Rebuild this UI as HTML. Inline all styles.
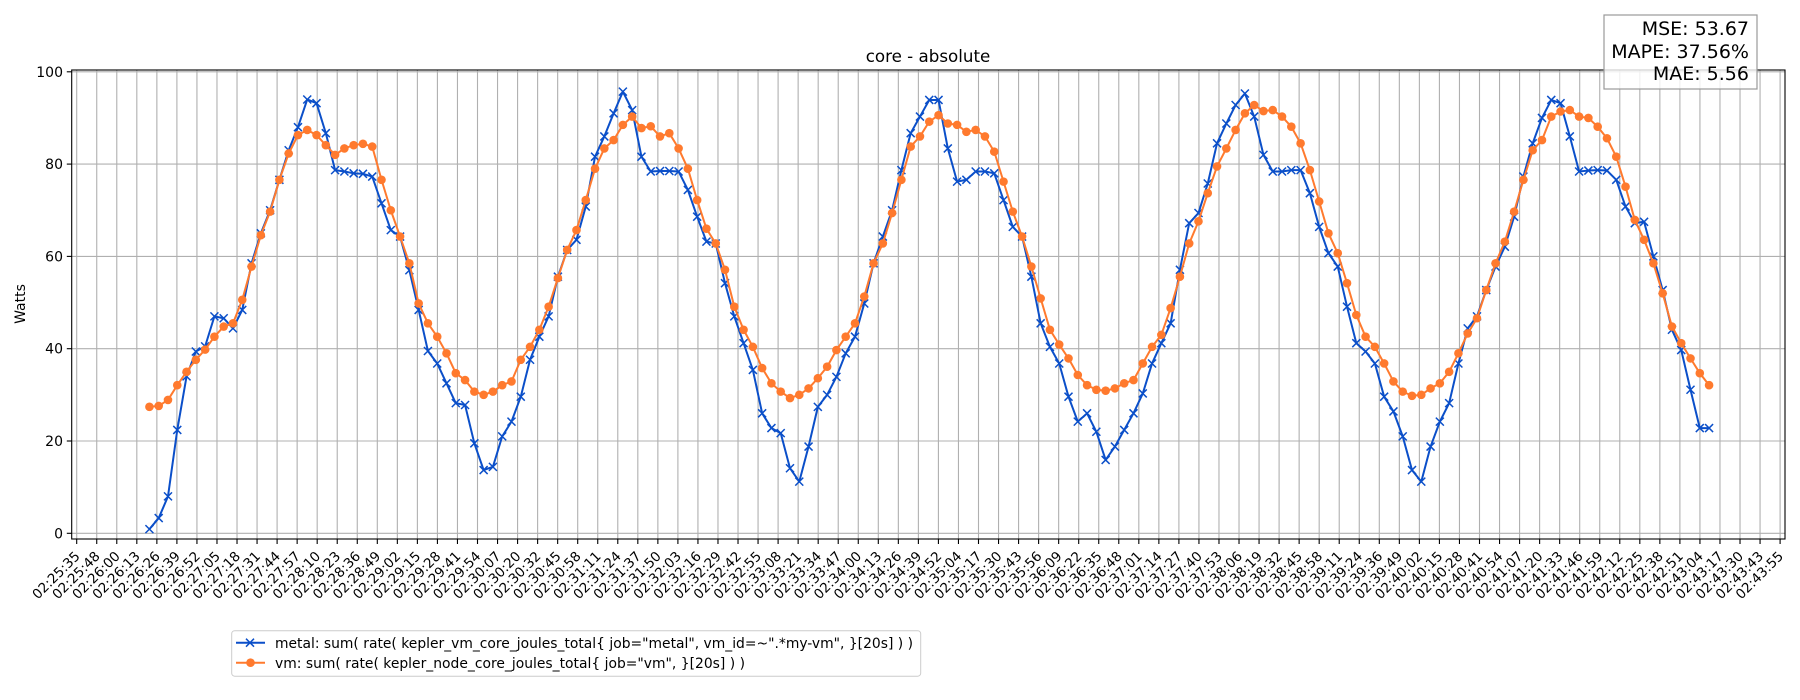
<!DOCTYPE html>
<html><head><meta charset="utf-8"><style>
html,body{margin:0;padding:0;background:#fff;}
svg{display:block;font-family:"DejaVu Sans","Liberation Sans",sans-serif;}
</style></head><body>
<svg id="chart" width="1800" height="700" viewBox="0 0 1800 700" xmlns="http://www.w3.org/2000/svg">
<rect x="0" y="0" width="1800" height="700" fill="#fff"/>
<g id="grid"></g>
<g id="axes"></g>
<g id="series"></g>
<rect x="71.7" y="70" width="1713.3" height="469" fill="none" stroke="#000" stroke-width="1.1"/>
<text x="928" y="62" font-size="16.7" text-anchor="middle">core - absolute</text>
<text x="0" y="0" font-size="14" text-anchor="middle" transform="translate(25,304) rotate(-90)">Watts</text>
<g>
<rect x="1604" y="15" width="153" height="74" fill="rgba(255,255,255,0.8)" stroke="#999" stroke-width="1.2"/>
<text x="1749" y="35" font-size="19" text-anchor="end">MSE: 53.67</text>
<text x="1749" y="58" font-size="19" text-anchor="end">MAPE: 37.56%</text>
<text x="1749" y="80" font-size="19" text-anchor="end">MAE: 5.56</text>
</g>
<g>
<rect x="231.7" y="630.7" width="689" height="45.5" rx="3" fill="#fff" fill-opacity="0.8" stroke="#ccc" stroke-width="1"/>
<g>
<line x1="236" y1="642.7" x2="265" y2="642.7" stroke="#0b4fc9" stroke-width="2"/>
<path d="M246,638.7 L254,646.7 M254,638.7 L246,646.7" stroke="#0b4fc9" stroke-width="1.5"/>
<text x="275" y="648" font-size="14.5" textLength="638" lengthAdjust="spacingAndGlyphs">metal: sum( rate( kepler_vm_core_joules_total{ job="metal", vm_id=~".*my-vm", }[20s] ) )</text>
</g>
<g>
<line x1="236" y1="662.7" x2="265" y2="662.7" stroke="#ff7a2e" stroke-width="2"/>
<circle cx="250.5" cy="662.7" r="4.3" fill="#ff7a2e"/>
<text x="275" y="668" font-size="14.5" textLength="470" lengthAdjust="spacingAndGlyphs">vm: sum( rate( kepler_node_core_joules_total{ job="vm", }[20s] ) )</text>
</g>
</g>
</svg>
<script>
const yTicks = [0, 20, 40, 60, 80, 100];
const startClock = 2*3600 + 25*60 + 35.09;
const tickCount = 86;
const tickStepSec = 1100.9 / 85;
const sampleStart = 47;
const sampleStep = 6;
const metalValues = [0.9,3.3,8,22.4,34,39.4,40.5,47,46.6,44.4,48.4,58.5,65,70,76.6,83,88,94,93.2,86.7,78.7,78.4,78,77.9,77.3,71.5,65.7,64.3,57,48.4,
39.5,36.8,32.5,28.2,27.8,19.5,13.7,14.4,21,24.2,29.6,37.6,42.6,47,55.6,61.4,63.6,70.8,81.6,86,91,95.7,91.7,81.6,78.4,78.5,78.5,78.4,74.4,68.6,
63.2,62.8,54.2,47,41.2,35.4,26,22.8,21.7,14.1,11.2,18.8,27.4,30,33.9,39,42.6,49.8,58.5,64.3,70,78.7,86.7,90.3,93.9,93.9,83.4,76.2,76.6,78.4,
78.4,78,72.2,66.4,64.3,55.6,45.5,40.4,36.8,29.6,24.2,26,22,15.9,18.8,22.4,26,30.3,36.8,41.2,45.5,57.1,67.2,69.4,75.8,84.5,88.8,92.8,95.3,90.3,
82,78.4,78.4,78.7,78.7,73.7,66.4,60.7,57.8,49.1,41.2,39.4,36.8,29.6,26.4,21,13.7,11.2,18.8,24.2,28.2,36.8,44.4,47,52.7,57.8,62.1,68.6,77.3,84.5,
90,93.9,93.2,86,78.4,78.6,78.7,78.6,76.6,70.8,67.2,67.5,60,52.7,44.1,39.7,31.1,22.8,22.8];
const vmValues = [27.4,27.6,28.9,32.1,35,37.6,39.8,42.6,44.8,45.5,50.6,57.8,64.6,69.7,76.6,82.3,86.3,87.4,86.3,84.1,82,83.4,84.1,84.4,83.8,76.6,70,64.3,58.5,49.8,
45.5,42.6,39,34.7,33.2,30.7,30,30.7,32.1,32.9,37.6,40.4,44.1,49.1,55.3,61.4,65.7,72.2,79,83.4,85.2,88.5,90.3,87.8,88.2,86,86.7,83.4,79,72.2,
66,62.8,57.1,49.1,44.1,40.4,35.8,32.5,30.7,29.3,30,31.4,33.6,36.1,39.7,42.6,45.5,51.3,58.5,62.8,69.4,76.6,83.8,86,89.2,90.6,88.8,88.5,87,87.4,
86,82.7,76.2,69.7,64.3,57.8,50.9,44.1,40.9,37.9,34.3,32.1,31.1,30.9,31.4,32.5,33.2,36.8,40.4,43,48.8,55.6,62.8,67.6,73.7,79.5,83.4,87.4,91,92.8,
91.5,91.7,90.3,88.1,84.5,78.7,71.9,65,60.7,54.2,47.3,42.6,40.4,36.8,32.9,30.7,29.8,30,31.4,32.5,35,39,43.3,46.6,52.7,58.5,63.2,69.7,76.6,83,
85.2,90.3,91.4,91.7,90.3,90,88.1,85.6,81.6,75.1,67.9,63.6,58.5,52,44.8,41.2,37.9,34.7,32.1];

const NS = 'http://www.w3.org/2000/svg';
const X0 = 76.7, PXS = 20.04 / tickStepSec;
function xScale(sec){ return X0 + sec * PXS; }
function yScale(v){ return 533.3 - v * 4.615; }
function mk(tag, attrs, parent){ const e = document.createElementNS(NS, tag); for (const k in attrs) e.setAttribute(k, attrs[k]); parent.appendChild(e); return e; }
function pad(n){ return (n<10?'0':'') + n; }
function fmt(s){ s = Math.floor(s + 1e-6); return pad(Math.floor(s/3600)) + ':' + pad(Math.floor(s/60)%60) + ':' + pad(s%60); }

const grid = document.getElementById('grid');
const axes = document.getElementById('axes');
const series = document.getElementById('series');

for (let i = 0; i < tickCount; i++) {
  const sec = i * tickStepSec;
  const x = xScale(sec);
  const gl = mk('line', {x1:x, y1:70, x2:x, y2:539, stroke:'#b0b0b0', 'stroke-width':1.1}, grid);
  
  
  const tk = mk('line', {x1:x, y1:539, x2:x, y2:544, stroke:'#000', 'stroke-width':1.1}, axes);
  
  
  const t = mk('text', {x:0, y:0, 'font-size':13.5, 'text-anchor':'end', transform:'translate(' + (x+4) + ',557) rotate(-45)'}, axes);
  t.textContent = fmt(startClock + sec);
  
  
}
yTicks.forEach(v => {
  const y = yScale(v);
  const gl = mk('line', {x1:71.7, y1:y, x2:1785, y2:y, stroke:'#b0b0b0', 'stroke-width':1.1}, grid);
  
  
  const tk = mk('line', {x1:66.8, y1:y, x2:71.7, y2:y, stroke:'#000', 'stroke-width':1.1}, axes);
  
  
  const t = mk('text', {x:63, y:y+5, 'font-size':14, 'text-anchor':'end'}, axes);
  t.textContent = String(v);
  
  
});

function drawSeries(vals, color, kind, name){
  const g = mk('g', {}, series);
  
  
  const pts = vals.map((v,i) => [xScale(sampleStart + i*sampleStep), yScale(v)]);
  const pl = mk('polyline', {points: pts.map(p => p[0].toFixed(2)+','+p[1].toFixed(2)).join(' '), fill:'none', stroke:color, 'stroke-width':2, 'stroke-linejoin':'round'}, g);
  
  
  pts.forEach(p => {
    let m;
    if (kind === 'x') {
      m = mk('path', {d:'M'+(p[0]-4)+','+(p[1]-4)+' L'+(p[0]+4)+','+(p[1]+4)+' M'+(p[0]+4)+','+(p[1]-4)+' L'+(p[0]-4)+','+(p[1]+4), stroke:color, 'stroke-width':1.5, fill:'none'}, g);
    } else {
      m = mk('circle', {cx:p[0], cy:p[1], r:4.3, fill:color}, g);
    }
    
    
  });
}
drawSeries(metalValues, '#0b4fc9', 'x', 'metal-series');
drawSeries(vmValues, '#ff7a2e', 'o', 'vm-series');
</script>
</body></html>
